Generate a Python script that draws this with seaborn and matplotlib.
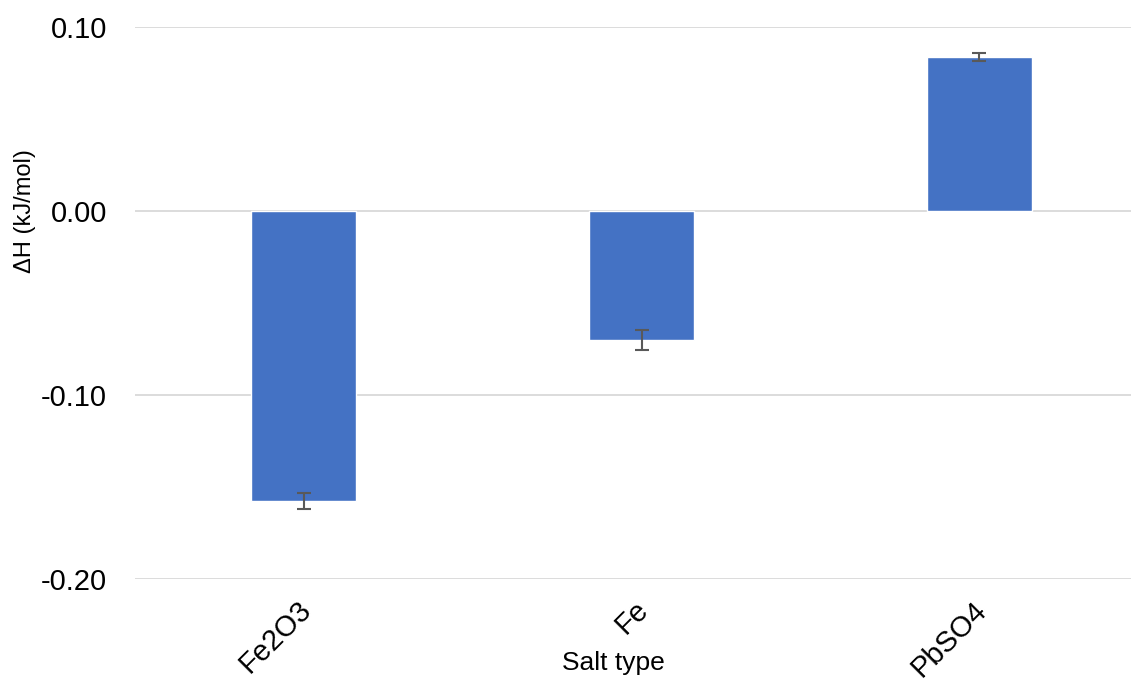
import matplotlib
matplotlib.use("Agg")
import matplotlib.pyplot as plt
import matplotlib.transforms as mtransforms
import seaborn as sns
import pandas as pd

categories = ["Fe2O3", "Fe", "PbSO4"]
values = [-0.1576, -0.0701, 0.0837]
errors = [0.0043, 0.0054, 0.0022]
yticks = [-0.20, -0.10, 0.00, 0.10]

sns.set_theme(style="white")
plt.rcParams['font.family'] = ['Liberation Sans', 'DejaVu Sans']

df = pd.DataFrame({"Salt type": categories, "dH": values})

fig = plt.figure(figsize=(11.31, 6.81), dpi=100)
ax = fig.add_axes([135/1131, 1-579/681, 1013/1131, 552/681])

sns.barplot(data=df, x="Salt type", y="dH", color="#4472C4", width=0.31,
            saturation=1, ax=ax, errorbar=None, zorder=3)
ax.errorbar(range(len(categories)), values, yerr=errors, fmt="none",
            ecolor="#595959", elinewidth=1.5, capsize=5, capthick=1.5, zorder=4)

ax.set_xlim(-0.5, 2.5)
ax.set_ylim(-0.2, 0.1)
ax.set_yticks(yticks)
ax.set_yticklabels([f"{t:.2f}" for t in yticks], fontsize=21, color="black")
ax.yaxis.grid(True, color="#D9D9D9", linewidth=1.3, zorder=0)
ax.xaxis.grid(False)
for s in ax.spines.values():
    s.set_visible(False)
ax.tick_params(axis="y", length=0, pad=20)
ax.tick_params(axis="x", length=0, pad=12)
offset = mtransforms.ScaledTranslation(-7/100, 0, fig.dpi_scale_trans)
for lbl in ax.get_xticklabels():
    lbl.set_rotation(45)
    lbl.set_ha("right")
    lbl.set_rotation_mode("anchor")
    lbl.set_fontsize(21)
    lbl.set_color("black")
    lbl.set_transform(lbl.get_transform() + offset)

ax.set_xlabel("Salt type", fontsize=19, color="black")
ax.xaxis.set_label_coords((613-135)/1013, -(663-579)/552)
ax.xaxis.label.set_va("center")
ax.set_ylabel("ΔH (kJ/mol)", fontsize=17, color="black")
ax.yaxis.set_label_coords(-(135-25)/1013, (579-211)/552)
ax.yaxis.label.set_va("center")

fig.savefig("out.png", dpi=100)
